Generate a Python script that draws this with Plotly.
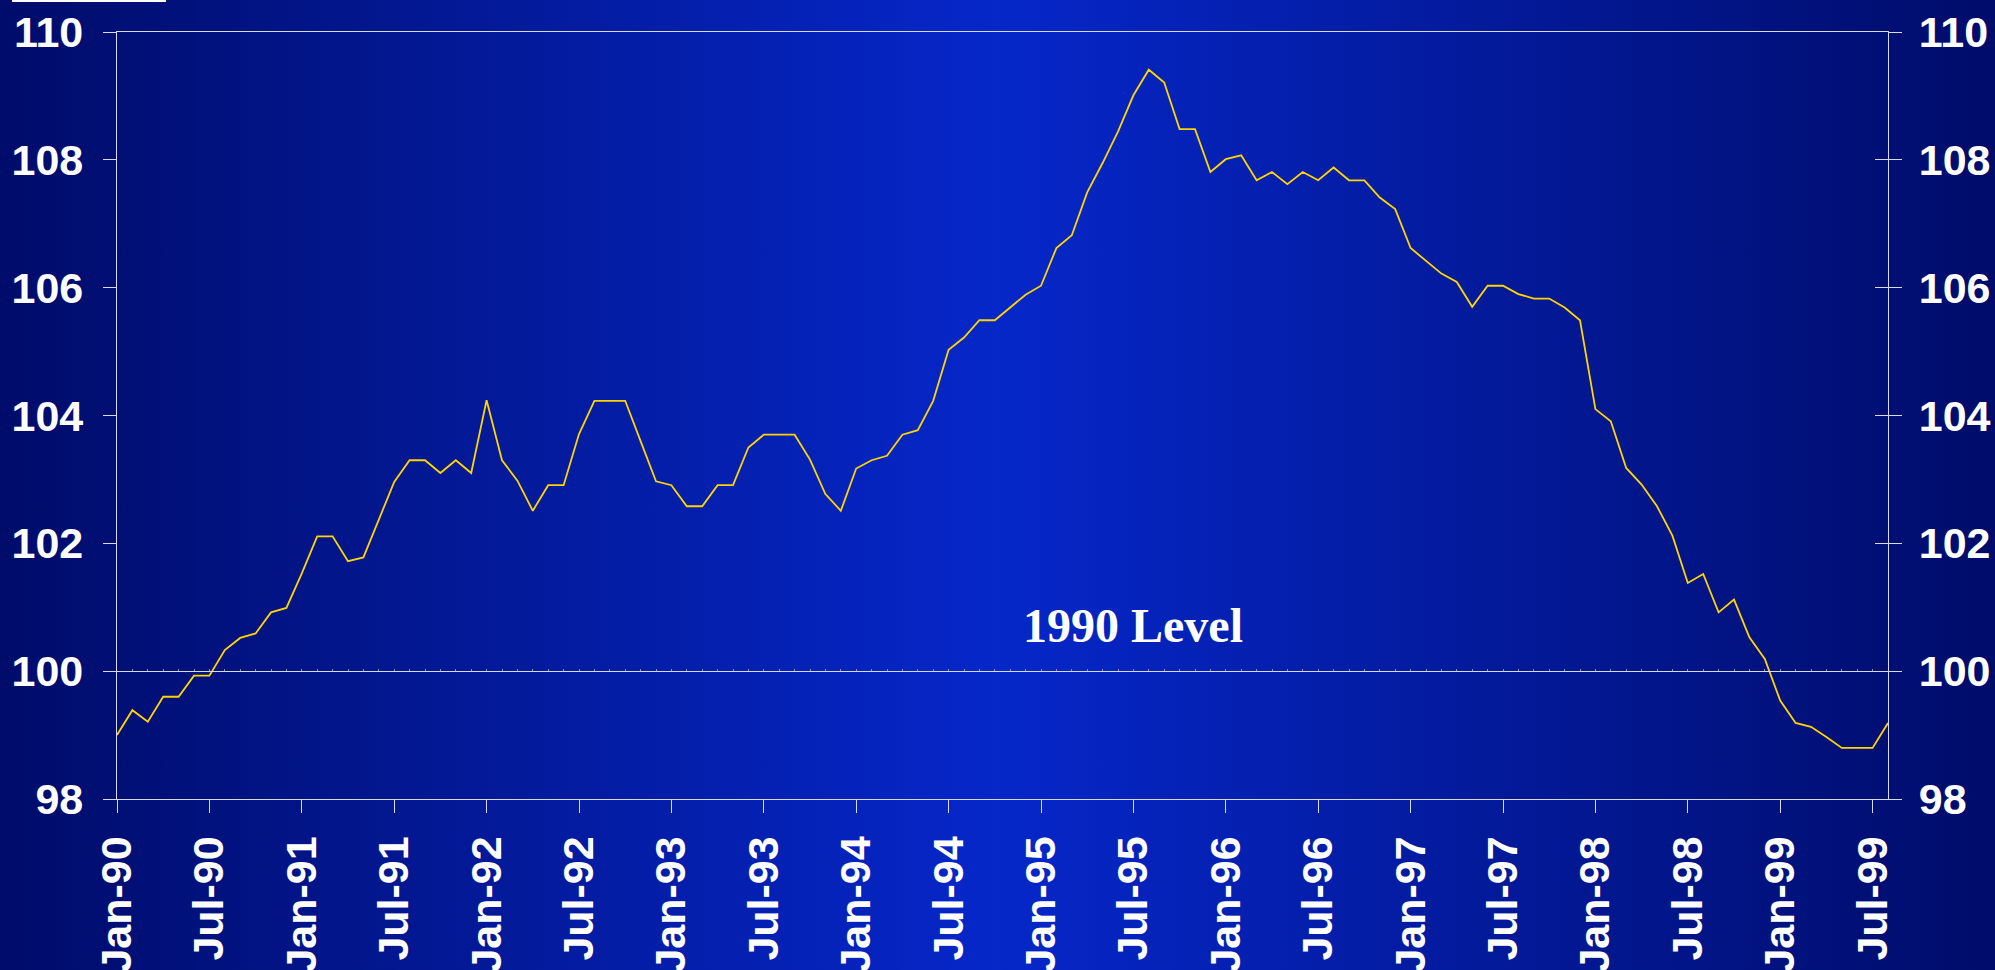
import base64
import plotly.graph_objects as go

# ---------------- data ----------------
MONTH_NAMES = ["Jan", "Feb", "Mar", "Apr", "May", "Jun",
               "Jul", "Aug", "Sep", "Oct", "Nov", "Dec"]
MONTHS = [f"{m}-{y:02d}" for y in range(90, 100) for m in MONTH_NAMES][:116]  # Jan-90 .. Aug-99

VALUES = [
    99.00, 99.39, 99.21, 99.60, 99.60, 99.93, 99.93, 100.33, 100.52, 100.59, 100.92, 100.99,   # 1990
    101.53, 102.11, 102.11, 101.72, 101.78, 102.37, 102.96, 103.30, 103.30, 103.10, 103.30, 103.10,  # 1991
    104.24, 103.30, 102.98, 102.51, 102.91, 102.91, 103.71, 104.23, 104.23, 104.23, 103.60, 102.97,  # 1992
    102.91, 102.58, 102.58, 102.91, 102.91, 103.50, 103.70, 103.70, 103.70, 103.31, 102.77, 102.51,  # 1993
    103.17, 103.30, 103.37, 103.70, 103.77, 104.23, 105.03, 105.22, 105.49, 105.49, 105.69, 105.89,  # 1994
    106.03, 106.62, 106.82, 107.49, 107.95, 108.44, 109.01, 109.41, 109.21, 108.48, 108.48, 107.81,  # 1995
    108.01, 108.07, 107.68, 107.81, 107.62, 107.81, 107.68, 107.88, 107.68, 107.68, 107.41, 107.23,  # 1996
    106.62, 106.42, 106.22, 106.09, 105.70, 106.03, 106.03, 105.90, 105.83, 105.83, 105.69, 105.49,  # 1997
    104.10, 103.91, 103.18, 102.92, 102.58, 102.12, 101.38, 101.52, 100.92, 101.12, 100.53, 100.19,  # 1998
    99.54, 99.19, 99.13, 98.97, 98.80, 98.80, 98.80, 99.19,                                          # 1999
]

TICK_LABELS = ["Jan-90", "Jul-90", "Jan-91", "Jul-91", "Jan-92", "Jul-92", "Jan-93", "Jul-93",
               "Jan-94", "Jul-94", "Jan-95", "Jul-95", "Jan-96", "Jul-96", "Jan-97", "Jul-97",
               "Jan-98", "Jul-98", "Jan-99", "Jul-99"]

Y_TICKS = [98, 100, 102, 104, 106, 108, 110]
BASE_LEVEL = 100
ANNOTATION_TEXT = "1990 Level"

# ---------------- style ----------------
W, H = 1995, 970
ML, MR, MT, MB = 117, 107, 32, 171
PW, PH = W - ML - MR, H - MT - MB
AXIS_COLOR = "#D6DAEA"
LINE_COLOR = "#FFD500"
TICK_FONT = dict(family="Liberation Sans, Arial, sans-serif", size=43, color="white", weight="bold")

svg = (
    f'<svg xmlns="http://www.w3.org/2000/svg" width="{W}" height="{H}" preserveAspectRatio="none">'
    '<defs><linearGradient id="g" x1="0" x2="1" y1="0" y2="0">'
    '<stop offset="0" stop-color="#000C6A"/>'
    '<stop offset="0.5" stop-color="#0627C9"/>'
    '<stop offset="1" stop-color="#000C6A"/>'
    '</linearGradient></defs>'
    f'<rect width="{W}" height="{H}" fill="url(#g)"/></svg>'
)
bg_src = "data:image/svg+xml;base64," + base64.b64encode(svg.encode()).decode()

fig = go.Figure()

fig.add_trace(go.Scatter(
    x=MONTHS, y=VALUES, mode="lines",
    line=dict(color=LINE_COLOR, width=1.8),
    showlegend=False, hoverinfo="x+y",
))
# invisible helper traces so the overlay axes render
fig.add_trace(go.Scatter(x=[0, len(MONTHS) - 1], y=[BASE_LEVEL, BASE_LEVEL], xaxis="x2", yaxis="y",
                         mode="lines", line=dict(width=0), opacity=0, showlegend=False, hoverinfo="skip"))
fig.add_trace(go.Scatter(x=MONTHS[:1], y=[BASE_LEVEL], xaxis="x", yaxis="y2",
                         mode="markers", opacity=0, showlegend=False, hoverinfo="skip"))
fig.add_trace(go.Scatter(x=MONTHS[:1], y=[BASE_LEVEL], xaxis="x", yaxis="y3",
                         mode="markers", opacity=0, showlegend=False, hoverinfo="skip"))

yr = [Y_TICKS[0], Y_TICKS[-1]]
xr = [0, len(MONTHS) - 1]

fig.update_layout(
    width=W, height=H, autosize=False,
    margin=dict(l=ML, r=MR, t=MT, b=MB, pad=0, autoexpand=False),
    paper_bgcolor="#000C6A",
    plot_bgcolor="rgba(0,0,0,0)",
    showlegend=False,
    xaxis=dict(
        type="category", categoryorder="array", categoryarray=MONTHS, range=xr,
        tickmode="array", tickvals=TICK_LABELS, ticktext=TICK_LABELS,
        ticks="outside", ticklen=13, tickwidth=1.3, tickcolor=AXIS_COLOR,
        showline=True, linecolor=AXIS_COLOR, linewidth=1.3, mirror=True,
        showgrid=False, zeroline=False, tickangle=-90, tickfont=TICK_FONT,
        ticklabelstandoff=6, automargin=False,
    ),
    xaxis2=dict(
        overlaying="x", anchor="free",
        position=(BASE_LEVEL - yr[0]) / (yr[1] - yr[0]),
        range=xr, tickmode="linear", tick0=0, dtick=1,
        ticks="inside", ticklen=2, tickwidth=1, tickcolor="rgba(214,218,234,0.6)",
        showline=True, linecolor=AXIS_COLOR, linewidth=1.2,
        showticklabels=False, showgrid=False, zeroline=False,
    ),
    yaxis=dict(
        range=yr, tickmode="array", tickvals=Y_TICKS,
        ticks="outside", ticklen=13, tickwidth=1.3, tickcolor=AXIS_COLOR,
        showline=True, linecolor=AXIS_COLOR, linewidth=1.3,
        showgrid=False, zeroline=False, tickfont=TICK_FONT, ticklabelstandoff=11,
        automargin=False,
    ),
    yaxis2=dict(
        overlaying="y", side="right", anchor="x", range=yr,
        tickmode="array", tickvals=Y_TICKS,
        ticks="outside", ticklen=13, tickwidth=1.3, tickcolor=AXIS_COLOR,
        showline=True, linecolor=AXIS_COLOR, linewidth=1.3,
        showgrid=False, zeroline=False, tickfont=TICK_FONT, ticklabelstandoff=8,
        automargin=False,
    ),
    yaxis3=dict(
        overlaying="y", side="right", anchor="x", range=yr,
        tickmode="array", tickvals=Y_TICKS,
        ticks="inside", ticklen=13, tickwidth=1.3, tickcolor=AXIS_COLOR,
        showline=False, showticklabels=False, showgrid=False, zeroline=False,
    ),
    images=[dict(
        source=bg_src, xref="paper", yref="paper",
        x=-ML / PW, y=(PH + MT) / PH, sizex=W / PW, sizey=H / PH,
        xanchor="left", yanchor="top", sizing="stretch", layer="below",
    )],
    shapes=[dict(
        type="rect", xref="paper", yref="paper",
        x0=(12 - ML) / PW, x1=(166 - ML) / PW,
        y0=(PH + MT - 2) / PH, y1=(PH + MT) / PH,
        fillcolor="white", line=dict(width=0),
    )],
    annotations=[dict(
        x=66, y=100.72, xref="x", yref="y", text=f"<b>{ANNOTATION_TEXT}</b>",
        showarrow=False, xanchor="center", yanchor="middle",
        font=dict(family="Liberation Serif, Times New Roman, serif", size=48, color="white"),
    )],
)

fig.write_html(
    "out.html",
    config={"responsive": False, "displayModeBar": False},
    post_script="document.body.style.margin='0';document.body.style.padding='0';"
                "document.body.style.overflow='hidden';document.documentElement.style.overflow='hidden';",
)
